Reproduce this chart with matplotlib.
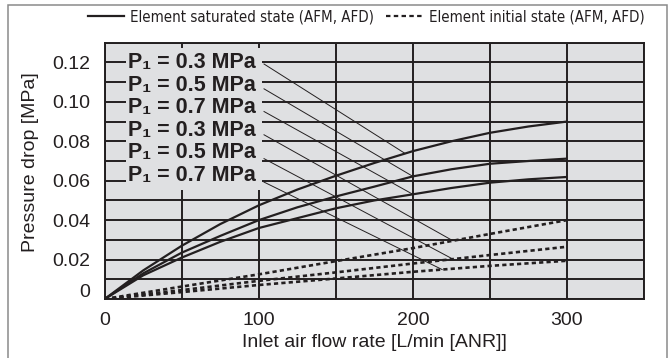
"""Pressure drop vs inlet air flow rate (element saturated / initial state)."""

import matplotlib
matplotlib.use("Agg")
import matplotlib.pyplot as plt
import matplotlib.transforms as mtransforms
from matplotlib.lines import Line2D
from matplotlib.patches import Rectangle
import numpy as np

plt.rcParams["font.family"] = ["Liberation Sans", "DejaVu Sans"]

# flow rate [L/min (ANR)]
flow = [0, 25, 50, 75, 100, 125, 150, 175, 200, 225, 250, 275, 300]
# element saturated state, P1 = 0.3 / 0.5 / 0.7 MPa
sat_03 = [0, 0.0145, 0.027, 0.038, 0.0475, 0.0555, 0.0625, 0.069, 0.075, 0.080, 0.0843, 0.0875, 0.090]
sat_05 = [0, 0.013, 0.0235, 0.032, 0.040, 0.0465, 0.052, 0.057, 0.0622, 0.0658, 0.0686, 0.070, 0.0712]
sat_07 = [0, 0.012, 0.021, 0.029, 0.036, 0.041, 0.046, 0.050, 0.0531, 0.0563, 0.059, 0.0607, 0.0619]

flow_init = [0, 50, 100, 150, 200, 250, 300]
# element initial state, P1 = 0.3 / 0.5 / 0.7 MPa
init_03 = [0, 0.0063, 0.0125, 0.0192, 0.0258, 0.0330, 0.040]
init_05 = [0, 0.0045, 0.0092, 0.0135, 0.018, 0.0223, 0.0265]
init_07 = [0, 0.0035, 0.0071, 0.0104, 0.0138, 0.0168, 0.0194]

labels = ["P₁ = 0.3 MPa", "P₁ = 0.5 MPa", "P₁ = 0.7 MPa",
          "P₁ = 0.3 MPa", "P₁ = 0.5 MPa", "P₁ = 0.7 MPa"]
label_y = [0.120, 0.1085, 0.097, 0.0856, 0.0741, 0.0626]
leader_y = [0.1192, 0.1066, 0.0951, 0.0833, 0.0712, 0.0593]
leader_x_end = [195, 200, 200, 226, 226, 219]

yticks = [0, 0.02, 0.04, 0.06, 0.08, 0.10, 0.12]
ytick_labels = ["0", "0.02", "0.04", "0.06", "0.08", "0.10", "0.12"]
xticks = [0, 100, 200, 300]

ink = "#231f20"
bg = "#dfe0e2"
dash = (0, (1.6, 1.2))

fig = plt.figure(figsize=(6.72, 3.58), dpi=100)
ax = fig.add_axes([0.1558, 0.1648, 0.8025, 0.7159])
ax.set_facecolor(bg)
ax.set_xlim(0, 350)
ax.set_ylim(0, 0.13)

ax.set_xticks(xticks)
ax.set_xticks(np.arange(0, 351, 50), minor=True)
ax.set_yticks(yticks, ytick_labels)
ax.set_yticks(np.arange(0, 0.131, 0.01), minor=True)
ax.tick_params(which="both", length=0, labelsize=14, colors=ink)
ax.tick_params(axis="y", pad=10.5)
ax.tick_params(axis="x", pad=9)
ax.set_axisbelow(True)
ax.grid(which="both", color=ink, lw=1.4)
for s in ax.spines.values():
    s.set_color(ink)
    s.set_linewidth(1.4)

# shift the "0" on the y axis up a bit, as in the original
lab0 = ax.get_yticklabels()[0]
lab0.set_transform(lab0.get_transform() +
                   mtransforms.ScaledTranslation(0, 9 / 100, fig.dpi_scale_trans))

sat = [sat_03, sat_05, sat_07]
init = [init_03, init_05, init_07]
for ys in sat:
    ax.plot(flow, ys, color=ink, lw=1.6, zorder=3, solid_capstyle="butt")
for ys in init:
    ax.plot(flow_init, ys, color=ink, lw=1.9, ls=dash, zorder=3)

# box behind the P1 labels that hides the grid
ax.add_patch(Rectangle((13.8, 0.0551), 88.2, 0.0723, facecolor=bg,
                       edgecolor="none", zorder=1))
targets = [(flow, sat_03), (flow, sat_05), (flow, sat_07),
           (flow_init, init_03), (flow_init, init_05), (flow_init, init_07)]
for txt, ty, ly, xe, (cx, cy) in zip(labels, label_y, leader_y, leader_x_end, targets):
    ax.text(15, ty, txt, fontsize=15.5, fontweight="bold", color=ink,
            ha="left", va="center", zorder=4)
    ye = np.interp(xe, cx, cy)
    ax.plot([103.4, xe], [ly, ye], color=ink, lw=0.7, zorder=3)

ax.set_xlabel("Inlet air flow rate [L/min [ANR]]", fontsize=14, color=ink)
ax.set_ylabel("Pressure drop [MPa]", fontsize=14, color=ink)
ax.xaxis.set_label_coords(0.5, -0.135)
ax.yaxis.set_label_coords(-0.122, 0.533)

handles = [Line2D([], [], color=ink, lw=1.6),
           Line2D([], [], color=ink, lw=1.6, ls=(0, (2.0, 1.5)))]
fig.legend(handles, ["Element saturated state (AFM, AFD)",
                     "Element initial state (AFM, AFD)"],
           loc="center", bbox_to_anchor=(0.545, 0.9525), ncol=2, frameon=False,
           prop={"family": "DejaVu Sans", "stretch": "condensed", "size": 10.8},
           labelcolor=ink,
           handlelength=2.4, handletextpad=0.45, columnspacing=0.8,
           borderpad=0, borderaxespad=0)

# thin outer frame
fig.add_artist(Rectangle((0.0119, -0.01), 0.9807, 0.996, transform=fig.transFigure,
                         fill=False, edgecolor="#8a8a8a", lw=1.1))

fig.savefig("out.png", dpi=100)
